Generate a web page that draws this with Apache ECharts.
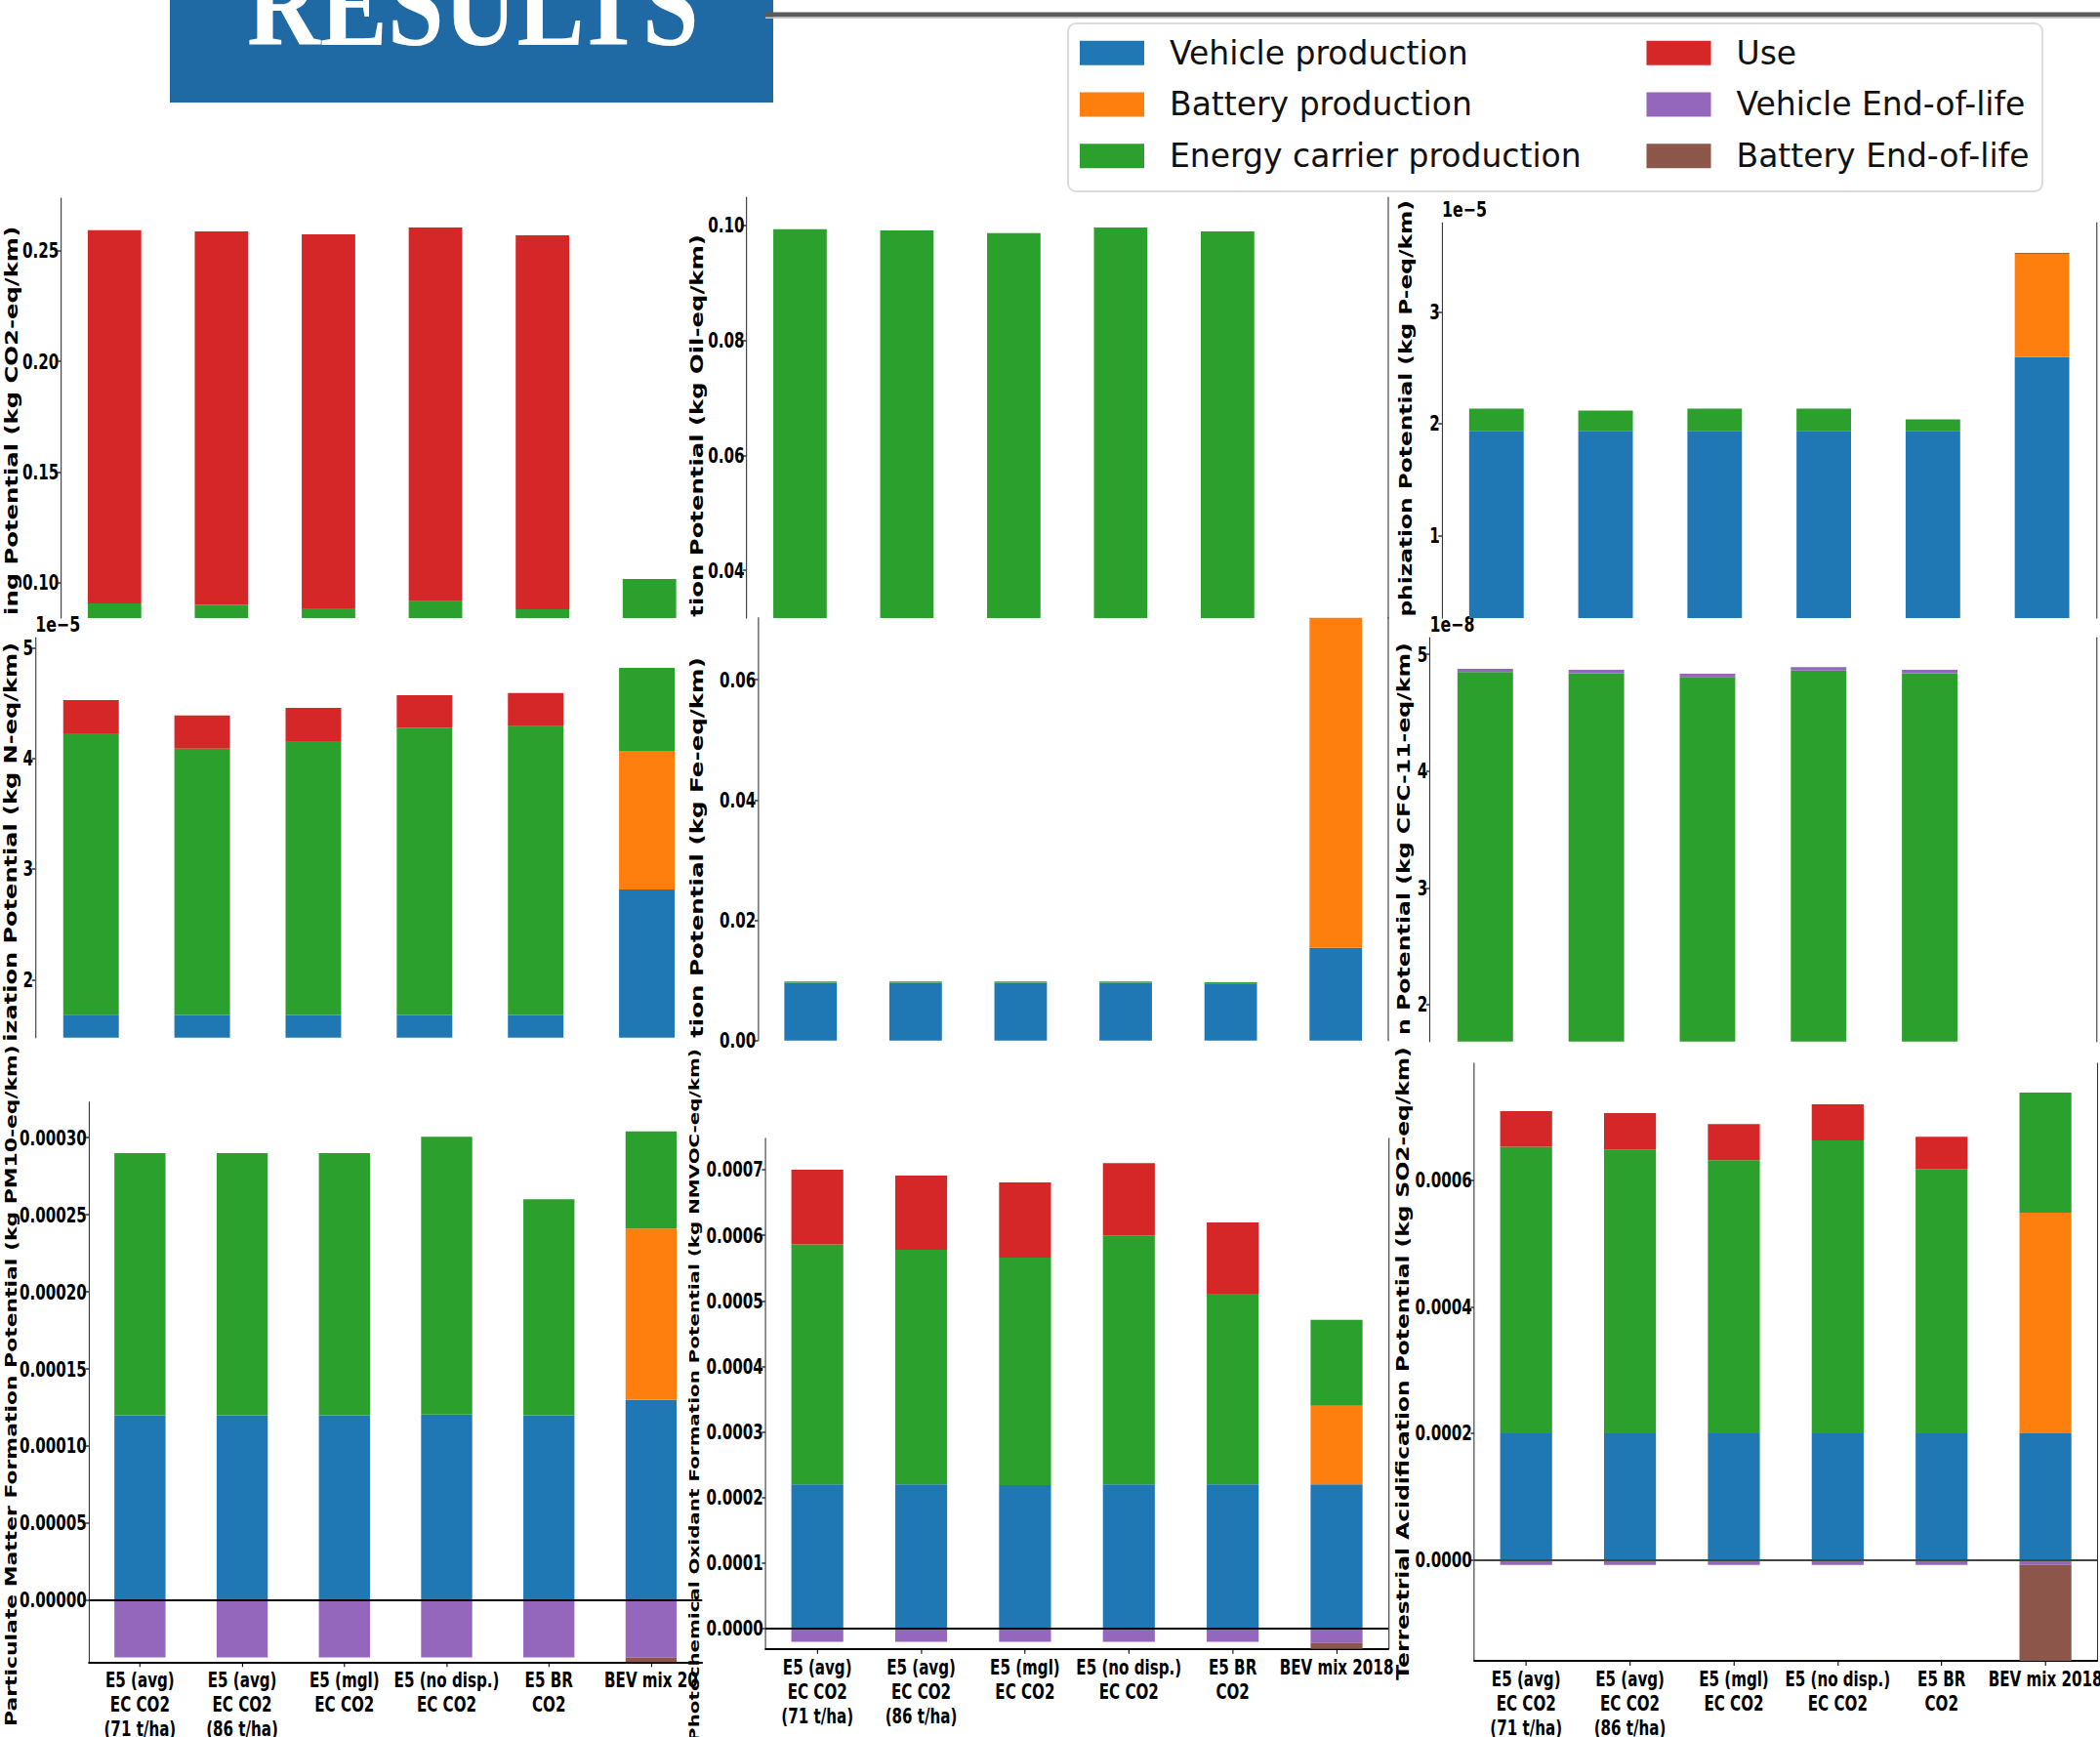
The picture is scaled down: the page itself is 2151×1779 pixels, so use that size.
<!DOCTYPE html>
<html>
<head>
<meta charset="utf-8">
<script src="https://cdn.jsdelivr.net/npm/echarts@6/dist/echarts.min.js"></script>
<style>
  html, body { margin: 0; padding: 0; background: #fff; overflow: hidden; }
  #wrap { position: relative; width: 2151px; height: 1779px; overflow: hidden; background: #fff; }
  #panels { position: absolute; left: 0; top: 0; height: 1779px; transform-origin: 0 0; }
  #header { position: absolute; left: 0; top: 0; width: 2151px; height: 1779px; }
</style>
</head>
<body>
<div id="wrap">
  <div id="panels"></div>
  <div id="header"></div>
</div>
<script>
// ---------------------------------------------------------------------------
// Life-cycle impact per km, split by life-cycle stage
// ---------------------------------------------------------------------------
const CATEGORIES = [
  'E5 (avg)\nEC CO2\n(71 t/ha)',
  'E5 (avg)\nEC CO2\n(86 t/ha)',
  'E5 (mgl)\nEC CO2',
  'E5 (no disp.)\nEC CO2',
  'E5 BR\nCO2',
  'BEV mix 2018'
];
const STAGES = [
  'Vehicle production',
  'Battery production',
  'Energy carrier production',
  'Use',
  'Vehicle End-of-life',
  'Battery End-of-life'
];
const STAGE_COLORS = ['#1f77b4', '#ff7f0e', '#2ca02c', '#d62728', '#9467bd', '#8c564b'];

// Each table: one row per stage (same order as STAGES), one column per category.
// Global warming (kg CO2-eq/km)
const GWP = [
  [0.030, 0.030, 0.030, 0.030, 0.030, 0.040],
  [0, 0, 0, 0, 0, 0.025],
  [0.0606, 0.0600, 0.0584, 0.0616, 0.0580, 0.0366],
  [0.1687, 0.1687, 0.1690, 0.1689, 0.1689, 0],
  [-0.002, -0.002, -0.002, -0.002, -0.002, -0.002],
  [0, 0, 0, 0, 0, -0.003]
];
// Fossil depletion (kg Oil-eq/km)
const FDP = [
  [0.008, 0.008, 0.008, 0.008, 0.008, 0.009],
  [0, 0, 0, 0, 0, 0.006],
  [0.0913, 0.0911, 0.0906, 0.0916, 0.0909, 0.012],
  [0, 0, 0, 0, 0, 0],
  [-0.0005, -0.0005, -0.0005, -0.0005, -0.0005, -0.0005],
  [0, 0, 0, 0, 0, -0.0008]
];
// Freshwater eutrophication (kg P-eq/km)
const FEP = [
  [1.935e-5, 1.935e-5, 1.935e-5, 1.935e-5, 1.935e-5, 2.595e-5],
  [0, 0, 0, 0, 0, 0.923e-5],
  [0.199e-5, 0.181e-5, 0.199e-5, 0.199e-5, 0.102e-5, 0.009e-5],
  [0, 0, 0, 0, 0, 0],
  [-0.02e-5, -0.02e-5, -0.02e-5, -0.02e-5, -0.02e-5, -0.02e-5],
  [0, 0, 0, 0, 0, -0.05e-5]
];
// Marine eutrophication (kg N-eq/km)
const MEP = [
  [1.682e-5, 1.68e-5, 1.68e-5, 1.68e-5, 1.68e-5, 2.815e-5],
  [0, 0, 0, 0, 0, 1.253e-5],
  [2.545e-5, 2.408e-5, 2.476e-5, 2.594e-5, 2.611e-5, 0.750e-5],
  [0.300e-5, 0.298e-5, 0.300e-5, 0.297e-5, 0.298e-5, 0],
  [-0.02e-5, -0.02e-5, -0.02e-5, -0.02e-5, -0.02e-5, -0.02e-5],
  [0, 0, 0, 0, 0, -0.03e-5]
];
// Metal depletion (kg Fe-eq/km)
const MDP = [
  [0.0096, 0.0096, 0.0096, 0.0096, 0.0095, 0.0154],
  [0, 0, 0, 0, 0, 0.066],
  [0.0002, 0.0002, 0.0002, 0.0002, 0.0002, 0.0010],
  [0, 0, 0, 0, 0, 0],
  [-0.0003, -0.0003, -0.0003, -0.0003, -0.0003, -0.0003],
  [0, 0, 0, 0, 0, -0.002]
];
// Ozone depletion (kg CFC-11-eq/km)
const ODP = [
  [0.30e-8, 0.30e-8, 0.30e-8, 0.30e-8, 0.30e-8, 0.60e-8],
  [0, 0, 0, 0, 0, 0.50e-8],
  [4.547e-8, 4.538e-8, 4.506e-8, 4.561e-8, 4.538e-8, 0.40e-8],
  [0, 0, 0, 0, 0, 0],
  [0.028e-8, 0.028e-8, 0.027e-8, 0.029e-8, 0.028e-8, 0.005e-8],
  [0, 0, 0, 0, 0, 0]
];
// Particulate matter formation (kg PM10-eq/km)
const PMFP = [
  [0.00012, 0.00012, 0.00012, 0.0001205, 0.00012, 0.00013],
  [0, 0, 0, 0, 0, 0.000111],
  [0.00017, 0.00017, 0.00017, 0.00018, 0.00014, 0.000063],
  [0, 0, 0, 0, 0, 0],
  [-0.000037, -0.000037, -0.000037, -0.000037, -0.000037, -0.000037],
  [0, 0, 0, 0, 0, -0.000012]
];
// Photochemical oxidant formation (kg NMVOC-eq/km)
const POFP = [
  [0.00022, 0.00022, 0.000219, 0.00022, 0.00022, 0.00022],
  [0, 0, 0, 0, 0, 0.00012],
  [0.000366, 0.000358, 0.000347, 0.00038, 0.000291, 0.000131],
  [0.000114, 0.000113, 0.0001145, 0.00011, 0.0001085, 0],
  [-0.00002, -0.00002, -0.00002, -0.00002, -0.00002, -0.000022],
  [0, 0, 0, 0, 0, -0.000012]
];
// Terrestrial acidification (kg SO2-eq/km)
const TAP = [
  [0.0002, 0.0002, 0.0002, 0.0002, 0.0002, 0.0002],
  [0, 0, 0, 0, 0, 0.000349],
  [0.000453, 0.000449, 0.000432, 0.000463, 0.000418, 0.00019],
  [0.0000567, 0.0000573, 0.0000571, 0.0000574, 0.0000508, 0],
  [-0.0000083, -0.0000083, -0.0000083, -0.0000083, -0.0000083, -0.0000083],
  [0, 0, 0, 0, 0, -0.00018]
];

// Tick positions of each value axis
const GWP_TICKS = [0.10, 0.15, 0.20, 0.25];
const FDP_TICKS = [0.04, 0.06, 0.08, 0.10];
const FEP_TICKS = [1e-5, 2e-5, 3e-5];
const MEP_TICKS = [2e-5, 3e-5, 4e-5, 5e-5];
const MDP_TICKS = [0, 0.02, 0.04, 0.06];
const ODP_TICKS = [2e-8, 3e-8, 4e-8, 5e-8];
const PMFP_TICKS = [0, 0.00005, 0.0001, 0.00015, 0.0002, 0.00025, 0.0003];
const POFP_TICKS = [0, 0.0001, 0.0002, 0.0003, 0.0004, 0.0005, 0.0006, 0.0007];
const TAP_TICKS = [0, 0.0002, 0.0004, 0.0006];

// ---------------------------------------------------------------------------
// Layout: the panel sheet is drawn wide and squeezed horizontally
// ---------------------------------------------------------------------------
const SQUEEZE = 0.72;
const FONT = '"DejaVu Sans"';
const MINUS = '\u2212';

// box = [left, top, right, bottom] of each plot area in page pixels
const PANELS = [
  { values: GWP, ticks: GWP_TICKS, scale: 1, digits: 2, range: [0.0840, 0.2737],
    box: [62.5, 203, 720, 633], title: 'ing Potential (kg CO2-eq/km)', titleX: 11.5, titleSpan: [231.7, 630] },
  { values: FDP, ticks: FDP_TICKS, scale: 1, digits: 2, range: [0.0317, 0.1048], rightSpine: true,
    box: [764.7, 202.3, 1421.6, 633], title: 'tion Potential (kg Oil-eq/km)', titleX: 714, titleSpan: [240, 631.7] },
  { values: FEP, ticks: FEP_TICKS, scale: 1e-5, digits: 0, range: [0.26e-5, 3.795e-5], offset: '1e' + MINUS + '5', rightSpine: true,
    box: [1476.9, 228.3, 2147.5, 633], title: 'phization Potential (kg P-eq/km)', titleX: 1440, titleSpan: [205, 631.7] },
  { values: MEP, ticks: MEP_TICKS, scale: 1e-5, digits: 0, range: [1.476e-5, 5.088e-5], offset: '1e' + MINUS + '5',
    box: [36.3, 653.3, 719.5, 1062.7], title: 'ization Potential (kg N-eq/km)', titleX: 11.5, titleSpan: [658, 1066.7] },
  { values: MDP, ticks: MDP_TICKS, scale: 1, digits: 2, range: [0, 0.0703], rightSpine: true,
    box: [776.5, 632.7, 1422, 1065.7], title: 'tion Potential (kg Fe-eq/km)', titleX: 714, titleSpan: [673, 1063] },
  { values: ODP, ticks: ODP_TICKS, scale: 1e-8, digits: 0, range: [1.685e-8, 5.14e-8], offset: '1e' + MINUS + '8', rightSpine: true,
    box: [1464.4, 653.3, 2147.3, 1066.7], title: 'n Potential (kg CFC-11-eq/km)', titleX: 1438.7, titleSpan: [658, 1060] },
  { values: PMFP, ticks: PMFP_TICKS, scale: 1, digits: 5, range: [-0.0000401, 0.000323], labels: true, lastLabelChars: 10, zeroLine: '#000',
    box: [91, 1128.8, 719.3, 1702.3], title: 'Particulate Matter Formation Potential (kg PM10-eq/km)', titleX: 11.5, titleSpan: [1070, 1768] },
  { values: POFP, ticks: POFP_TICKS, scale: 1, digits: 4, range: [-0.0000308, 0.0007478], labels: true, zeroLine: '#000', rightSpine: true,
    box: [784, 1165.9, 1422.2, 1688.7], title: 'Photochemical Oxidant Formation Potential (kg NMVOC-eq/km)', titleX: 711.5, titleSpan: [1074, 1784] },
  { values: TAP, ticks: TAP_TICKS, scale: 1, digits: 4, range: [-0.00016, 0.0007852], labels: true, zeroLine: '#444', rightSpine: true,
    box: [1510, 1089, 2148.3, 1701], title: 'Terrestrial Acidification Potential (kg SO2-eq/km)', titleX: 1437.5, titleSpan: [1072, 1721] }
];

const measureCtx = document.createElement('canvas').getContext('2d');
function fitFontSize(text, length, weight, family) {
  measureCtx.font = weight + ' 100px ' + family;
  return 100 * length / measureCtx.measureText(text).width;
}

const grid = [], xAxis = [], yAxis = [], series = [], graphic = [];
const tickFont = { fontFamily: FONT, fontWeight: 'bold', fontSize: 21, color: '#000' };
const categoryFont = { fontFamily: FONT, fontWeight: 'bold', fontSize: 21, color: '#000' };

PANELS.forEach((p, i) => {
  const [x0, y0, x1, y1] = p.box;
  grid.push({
    left: x0 / SQUEEZE, top: y0, width: (x1 - x0) / SQUEEZE, height: y1 - y0,
    containLabel: false, outerBoundsMode: 'none'
  });
  xAxis.push({
    type: 'category', gridIndex: i, data: CATEGORIES, boundaryGap: true,
    axisLine: { show: !!p.labels, onZero: false, lineStyle: { color: '#000', width: 2 } },
    axisTick: { show: !!p.labels, alignWithLabel: true, length: 5, lineStyle: { color: '#000', width: 1.5 } },
    axisLabel: Object.assign({
      show: !!p.labels, interval: 0, lineHeight: 25, margin: 6,
      formatter: (v, idx) => (p.lastLabelChars && idx === CATEGORIES.length - 1) ? v.slice(0, p.lastLabelChars) : v
    }, categoryFont),
    splitLine: { show: false }
  });
  const yIndex = yAxis.length;
  yAxis.push({
    type: 'value', gridIndex: i, min: p.range[0], max: p.range[1],
    splitLine: { show: false },
    axisLine: { show: true, lineStyle: { color: '#333', width: 1.5 } },
    axisTick: { show: true, length: 5, customValues: p.ticks, lineStyle: { color: '#333', width: 1.5 } },
    axisLabel: Object.assign({
      customValues: p.ticks, margin: 3,
      formatter: v => (v / p.scale).toFixed(p.digits)
    }, tickFont),
    name: p.offset || '', nameLocation: 'end', nameGap: 3,
    nameTextStyle: Object.assign({ align: 'left', verticalAlign: 'bottom' }, tickFont, { fontSize: 22 })
  });
  if (p.rightSpine) {
    yAxis.push({
      type: 'value', gridIndex: i, position: 'right', min: p.range[0], max: p.range[1],
      splitLine: { show: false }, axisTick: { show: false }, axisLabel: { show: false },
      axisLine: { show: true, lineStyle: { color: '#333', width: 1.5 } }
    });
  }
  STAGES.forEach((stage, s) => {
    const item = {
      type: 'bar', name: stage, xAxisIndex: i, yAxisIndex: yIndex, stack: 'panel' + i,
      barWidth: '50%', clip: true, data: p.values[s],
      itemStyle: { color: STAGE_COLORS[s] }
    };
    if (s === 0 && p.zeroLine) {
      item.markLine = {
        silent: true, symbol: 'none', label: { show: false },
        lineStyle: { color: p.zeroLine, width: 2, type: 'solid' },
        data: [{ yAxis: 0 }]
      };
    }
    series.push(item);
  });
  const titleLen = p.titleSpan[1] - p.titleSpan[0];
  const size = fitFontSize(p.title, titleLen, 'bold', FONT);
  graphic.push({
    type: 'text', x: p.titleX / SQUEEZE, y: (p.titleSpan[0] + p.titleSpan[1]) / 2,
    rotation: Math.PI / 2, z: 50,
    style: {
      text: p.title, font: 'bold ' + size.toFixed(2) + 'px ' + FONT, fill: '#000',
      align: 'center', verticalAlign: 'middle'
    }
  });
});

const panelsDiv = document.getElementById('panels');
panelsDiv.style.width = (2151 / SQUEEZE) + 'px';
panelsDiv.style.transform = 'scaleX(' + SQUEEZE + ')';

const panelChart = echarts.init(panelsDiv, null, { renderer: 'svg' });
panelChart.setOption({
  animation: false,
  backgroundColor: '#fff',
  textStyle: { fontFamily: FONT },
  grid, xAxis, yAxis, series, graphic
});

// ---------------------------------------------------------------------------
// Header: section banner, rule and stage legend
// ---------------------------------------------------------------------------
const BANNER_TEXT = 'RESULTS';
const bannerSize = 125;
measureCtx.font = 'bold ' + bannerSize + 'px "Liberation Serif"';
const bannerScale = 463 / measureCtx.measureText(BANNER_TEXT).width;

const legendText = { fontFamily: FONT, fontSize: 33, color: '#111', lineHeight: 36, padding: [0, 0, 0, 21] };
const legendBase = {
  orient: 'vertical', top: 36.2, icon: 'rect', itemWidth: 66, itemHeight: 25,
  itemGap: 16.75, padding: 0, textStyle: legendText
};

const headerChart = echarts.init(document.getElementById('header'), null, { renderer: 'svg' });
headerChart.setOption({
  animation: false,
  grid: { left: 0, top: 0, width: 1, height: 1, show: false, containLabel: false, outerBoundsMode: 'none' },
  xAxis: { type: 'category', show: false, data: [] },
  yAxis: { type: 'value', show: false },
  legend: [
    Object.assign({ data: STAGES.slice(0, 3), left: 1106 }, legendBase),
    Object.assign({ data: STAGES.slice(3), left: 1686.5 }, legendBase)
  ],
  series: STAGES.map((stage, k) => ({ type: 'bar', name: stage, data: [], itemStyle: { color: STAGE_COLORS[k] } })),
  graphic: [
    { type: 'rect', z: 1, shape: { x: 174, y: 0, width: 618, height: 105 }, style: { fill: '#1f69a5' } },
    { type: 'text', z: 2, x: 253, y: 46 - 0.3375 * bannerSize, scaleX: bannerScale,
      style: { text: BANNER_TEXT, font: 'bold ' + bannerSize + 'px "Liberation Serif"', fill: '#fff', align: 'left', verticalAlign: 'middle' } },
    { type: 'rect', z: 1, shape: { x: 784, y: 12.5, width: 1367, height: 5 }, style: { fill: '#5a5a5a' } },
    { type: 'rect', z: 1, shape: { x: 784, y: 17.5, width: 1367, height: 1.5 }, style: { fill: '#c8c8c8' } },
    { type: 'rect', z: 1, shape: { x: 1094, y: 24, width: 998, height: 172, r: 8 },
      style: { fill: '#fff', stroke: '#dcdcdc', lineWidth: 2 } }
  ]
});
echarts.connect([panelChart, headerChart]);
</script>
</body>
</html>
